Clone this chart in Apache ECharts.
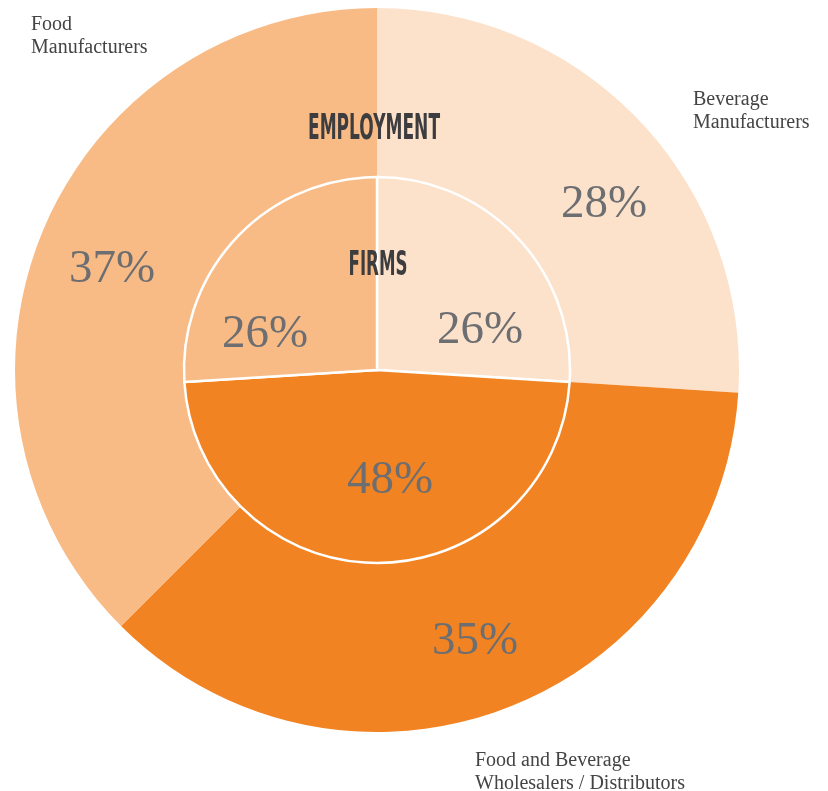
<!DOCTYPE html>
<html><head><meta charset="utf-8">
<script src="https://cdn.jsdelivr.net/npm/echarts@6/dist/echarts.min.js"></script>
<style>html,body{margin:0;padding:0;background:#fff;}#c{width:828px;height:791px;}</style>
</head><body><div id="c"></div>
<script>
const categories = ['Beverage\nManufacturers', 'Food and Beverage\nWholesalers / Distributors', 'Food\nManufacturers'];
// printed shares
const employment = [28, 35, 37];
const firms = [26, 48, 26];
// slice sizes as actually drawn in the picture (outer ring arcs measured)
const employmentArc = [26, 36.5, 37.5];
const ringTitles = ['EMPLOYMENT', 'FIRMS'];
const colors = ['#FDE2CB', '#F28322', '#F9BB85'];

const outerLabelAt = [[604, 205], [475, 642], [112, 270]];
const innerLabelAt = [[480, 331], [390, 481], [265, 335]];

const titleFont = 'bold 36px "DejaVu Sans"';
const ctx = document.createElement('canvas').getContext('2d');
ctx.font = titleFont;
const fitScale = (t, w) => w / ctx.measureText(t).width;

const chart = echarts.init(document.getElementById('c'));
const pctLabel = {
  show: true, position: 'inside',
  fontFamily: 'Liberation Serif', fontSize: 47, color: '#6d6e71'
};
chart.setOption({
  animation: false,
  color: colors,
  series: [
    {
      type: 'pie', center: [377, 370], radius: [193, 362], startAngle: 90,
      silent: true, label: Object.assign({}, pctLabel, {formatter: p => employment[p.dataIndex] + '%'}),
      labelLine: {show: false},
      labelLayout: p => ({x: outerLabelAt[p.dataIndex][0], y: outerLabelAt[p.dataIndex][1], align: 'center', verticalAlign: 'middle'}),
      data: categories.map((n, i) => ({name: n, value: employmentArc[i]}))
    },
    {
      type: 'pie', center: [377, 370], radius: [0, 193], startAngle: 90,
      silent: true, label: Object.assign({}, pctLabel, {formatter: '{c}%'}),
      labelLine: {show: false},
      itemStyle: {borderColor: '#fff', borderWidth: 2.5},
      labelLayout: p => ({x: innerLabelAt[p.dataIndex][0], y: innerLabelAt[p.dataIndex][1], align: 'center', verticalAlign: 'middle'}),
      data: categories.map((n, i) => ({name: n, value: firms[i]}))
    }
  ],
  graphic: [
    {type: 'text', z: 20, left: 31, top: 13, style: {text: categories[2], font: '20px "Liberation Serif"', fill: '#444', lineHeight: 23}},
    {type: 'text', z: 20, left: 693, top: 88, style: {text: categories[0], font: '20px "Liberation Serif"', fill: '#444', lineHeight: 23}},
    {type: 'text', z: 20, left: 475, top: 749, style: {text: categories[1], font: '20px "Liberation Serif"', fill: '#444', lineHeight: 23}},
    {type: 'text', z: 20, x: 374, y: 130, scaleX: fitScale(ringTitles[0], 132), style: {text: ringTitles[0], font: titleFont, fill: '#3d3d3f', align: 'center', verticalAlign: 'middle'}},
    {type: 'text', z: 20, x: 378, y: 266, scaleX: fitScale(ringTitles[1], 59), scaleY: 0.93, style: {text: ringTitles[1], font: titleFont, fill: '#3d3d3f', align: 'center', verticalAlign: 'middle'}}
  ]
});
</script></body></html>
